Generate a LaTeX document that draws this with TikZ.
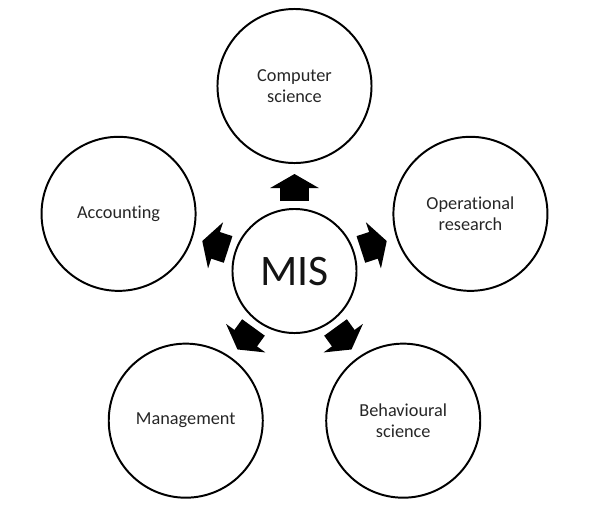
\documentclass[tikz,border=0pt]{standalone}
\usepackage{fontspec}
\setmainfont{Carlito}[Ligatures=NoCommon]
\usetikzlibrary{arrows.meta}

\begin{document}
\begin{tikzpicture}[x=0.025cm, y=0.025cm,
    field/.style={circle, draw, line width=1.4pt, minimum size=3.85cm,
      align=center, text=black!85, font=\fontsize{13}{14.5}\selectfont},
    core/.style={circle, draw, line width=1.4pt, minimum size=3.1cm,
      text=black!92, font=\fontsize{31}{34}\selectfont},
    blockarrow/.style={line width=0.7cm,
      -{Triangle[width=1.2cm, length=0.35cm]},
      shorten <=0.17cm, shorten >=0.25cm}]
\useasboundingbox (-294.5,271) rectangle (305.5,-245);
\node[core] (mis) at (0,0) {MIS};
\foreach \a/\n/\t in {90/cs/Computer\\science, 162/acc/Accounting,
    18/or/Operational\\research, 234/mgt/Management,
    306/beh/Behavioural\\science}
  \node[field] (\n) at (\a:185) {\t};
\foreach \n in {cs,acc,or,mgt,beh}
  \draw[blockarrow] (mis) -- (\n);
\end{tikzpicture}
\end{document}
